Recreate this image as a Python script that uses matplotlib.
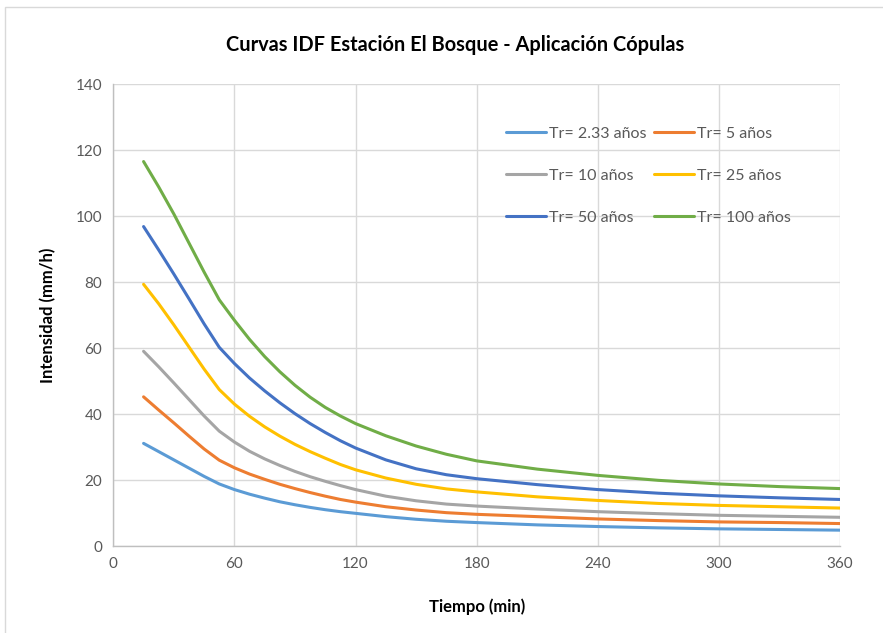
import numpy as np
import matplotlib.pyplot as plt
from matplotlib.patches import Rectangle

# duration (min) and intensity (mm/h)
tiempo = [15, 22.5, 30, 37.5, 45, 52.5, 60, 67.5, 75, 82.5, 90, 97.5, 105, 112.5, 120,
          135, 150, 165, 180, 210, 240, 270, 300, 330, 360]

i_233 = [31.1, 28.6, 26.1, 23.6, 21.1, 18.8, 17.1, 15.7, 14.5, 13.4, 12.5, 11.7, 11.0, 10.4, 9.9,
         8.9, 8.1, 7.5, 7.1, 6.4, 5.9, 5.5, 5.2, 5.0, 4.8]
i_5 = [45.2, 41.2, 37.3, 33.3, 29.4, 26.0, 23.7, 21.8, 20.2, 18.7, 17.4, 16.2, 15.1, 14.1, 13.3,
       11.9, 10.9, 10.1, 9.6, 8.9, 8.2, 7.7, 7.3, 7.1, 6.8]
i_10 = [59.0, 54.3, 49.4, 44.4, 39.4, 34.8, 31.5, 28.7, 26.4, 24.4, 22.6, 21.0, 19.6, 18.3, 17.1,
        15.1, 13.7, 12.7, 12.1, 11.2, 10.4, 9.8, 9.3, 9.0, 8.7]
i_25 = [79.3, 73.4, 67.0, 60.3, 53.6, 47.4, 43.0, 39.3, 36.1, 33.3, 30.8, 28.6, 26.6, 24.7, 23.1,
        20.6, 18.7, 17.3, 16.4, 14.9, 13.8, 12.9, 12.3, 11.9, 11.5]
i_50 = [96.8, 89.7, 82.4, 74.9, 67.3, 60.2, 55.3, 50.9, 47.0, 43.4, 40.1, 37.1, 34.4, 31.9, 29.7,
        26.1, 23.4, 21.6, 20.4, 18.6, 17.1, 16.0, 15.2, 14.6, 14.1]
i_100 = [116.5, 108.8, 100.6, 91.8, 83.0, 74.6, 68.4, 62.6, 57.4, 52.8, 48.7, 45.1, 42.0, 39.4, 37.1,
         33.4, 30.3, 27.8, 25.8, 23.3, 21.4, 19.9, 18.8, 18.0, 17.4]

etiquetas = ["Tr= 2.33 años", "Tr= 5 años", "Tr= 10 años",
             "Tr= 25 años", "Tr= 50 años", "Tr= 100 años"]
colores = ["#5B9BD5", "#ED7D31", "#A5A5A5", "#FFC000", "#4472C4", "#70AD47"]

plt.rcParams['font.family'] = ['Lato', 'DejaVu Sans']

fig = plt.figure(figsize=(8.83, 6.33), dpi=100)
fig.patches.append(Rectangle((5 / 883, -0.01), 1.0, 1 - 7 / 633 + 0.01,
                             transform=fig.transFigure, fill=False,
                             edgecolor="#d9d9d9", linewidth=1.0))

ax = fig.add_axes([113.3 / 883, 87 / 633, (840 - 113.3) / 883, (546 - 84) / 633])

series = [i_233, i_5, i_10, i_25, i_50, i_100]
lineas = []
for vals, lab, col in zip(series, etiquetas, colores):
    l, = ax.plot(tiempo, vals, color=col, linewidth=2.2, label=lab,
                 solid_joinstyle='round', solid_capstyle='round')
    lineas.append(l)

ax.set_xlim(0, 360)
ax.set_ylim(0, 140)
ax.set_xticks(np.arange(0, 361, 60))
ax.set_yticks(np.arange(0, 141, 20))
ax.grid(True, color="#d9d9d9", linewidth=1.0)
ax.set_axisbelow(True)
for s in ["top", "right"]:
    ax.spines[s].set_visible(False)
for s in ["left", "bottom"]:
    ax.spines[s].set_color("#bfbfbf")
    ax.spines[s].set_linewidth(1.0)
ax.tick_params(length=0, labelsize=11, labelcolor="#595959", pad=8)

ax.set_xlabel("Tiempo (min)", fontsize=12, fontweight="bold", color="#000000", labelpad=20)
ax.set_ylabel("Intensidad (mm/h)", fontsize=12, fontweight="bold", color="#000000", labelpad=14)

fig.text(455 / 883, 1 - 45 / 633, "Curvas IDF Estación El Bosque - Aplicación Cópulas",
         ha="center", va="center", fontsize=14.4, fontweight="bold")

# legend filled row by row, like the original
orden = [0, 2, 4, 1, 3, 5]
leg = ax.legend([lineas[i] for i in orden], [etiquetas[i] for i in orden],
                loc="upper left", bbox_to_anchor=((500 - 113.3) / (840 - 113.3), (546 - 120) / 462),
                ncol=2, frameon=False, fontsize=11.5, handlelength=2.5, handletextpad=0.15,
                columnspacing=0.5, labelspacing=1.75, borderaxespad=0)
for t in leg.get_texts():
    t.set_color("#595959")

plt.savefig("out.png", dpi=100)
